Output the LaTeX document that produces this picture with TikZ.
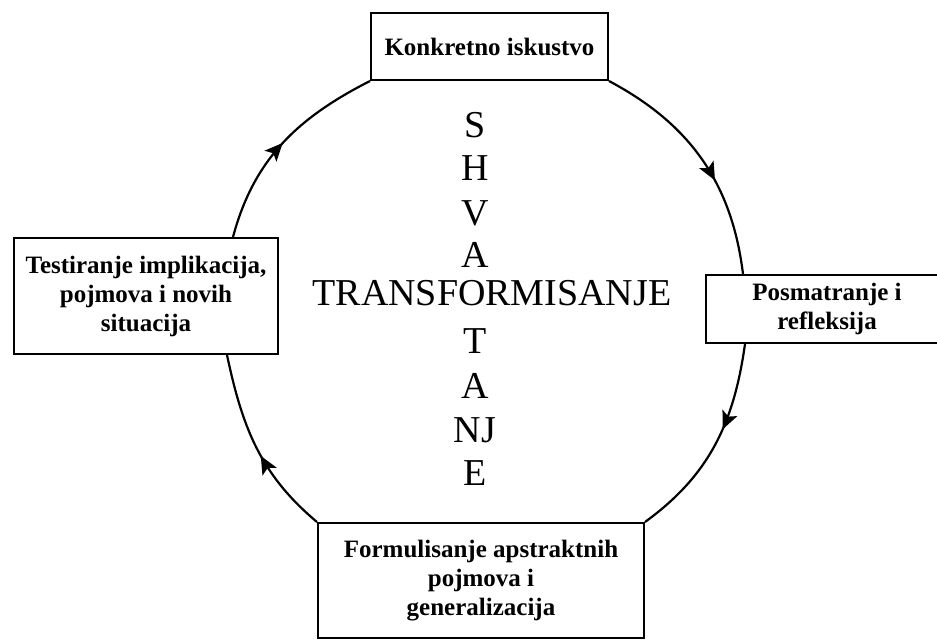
\documentclass[tikz,border=0pt]{standalone}
\usepackage{fontspec}
\setmainfont{Liberation Serif}
\usetikzlibrary{arrows.meta,decorations.markings}
\begin{document}
\begin{tikzpicture}[x=1pt,y=1pt,
  stage/.style={draw, line width=2pt, inner sep=0pt, align=center,
    font=\fontsize{25}{29}\selectfont\bfseries, anchor=north west},
  cycle/.style={line width=2.2pt, postaction={decorate},
    decoration={markings, mark=at position #1 with
      {\arrow{Stealth[length=18pt,width=16pt,inset=4pt]}}}},
  big/.style={font=\fontsize{38}{42}\selectfont, inner sep=0pt, anchor=base},
]
\useasboundingbox (0,0) rectangle (937,-641);

% the four stages of the learning cycle
\node[stage, minimum width=237pt, minimum height=67pt] (exp) at (370,-12) {Konkretno iskustvo};
\node[stage, minimum width=264pt, minimum height=116pt] (test) at (13,-237)
  {Testiranje implikacija,\\ pojmova i novih\\ situacija};
\node[stage, minimum width=242pt, minimum height=68pt] (refl) at (705,-274)
  {Posmatranje i\\ refleksija};
\node[stage, minimum width=326pt, minimum height=115pt] (form) at (317,-522)
  {Formulisanje apstraktnih\\ pojmova i\\ generalizacija};

% points where the circle meets the boxes
\coordinate (reflIn)  at ([xshift=38pt]refl.north west);
\coordinate (reflOut) at ([xshift=40pt]refl.south west);
\coordinate (testIn)  at ([xshift=214pt]test.south west);
\coordinate (testOut) at ([xshift=220pt]test.north west);

% clockwise cycle
\draw[cycle=0.6]  (exp.south east) to[out=-28,in=97]  (reflIn);
\draw[cycle=0.42] (reflOut) to[out=-98,in=36] (form.north east);
\draw[cycle=0.45] (form.north west) to[out=140,in=-78] (testIn);
\draw[cycle=0.5]  (testOut) to[out=75,in=207] (exp.south west);

% the two crossing words
\node[big] (tr) at (492,-305) {TRANSFORMISANJE};
\node[big] (v1) at (475,-137) {S};
\node[big] (v2) at (475,-180) {H};
\node[big] (v3) at (475,-225) {V};
\node[big] (v4) at (475,-267) {A};
\node[big] (v5) at (475,-353) {T};
\node[big] (v6) at (475,-398) {A};
\node[big] (v7) at (475,-442) {NJ};
\node[big] (v8) at (475,-485) {E};
\end{tikzpicture}
\end{document}
